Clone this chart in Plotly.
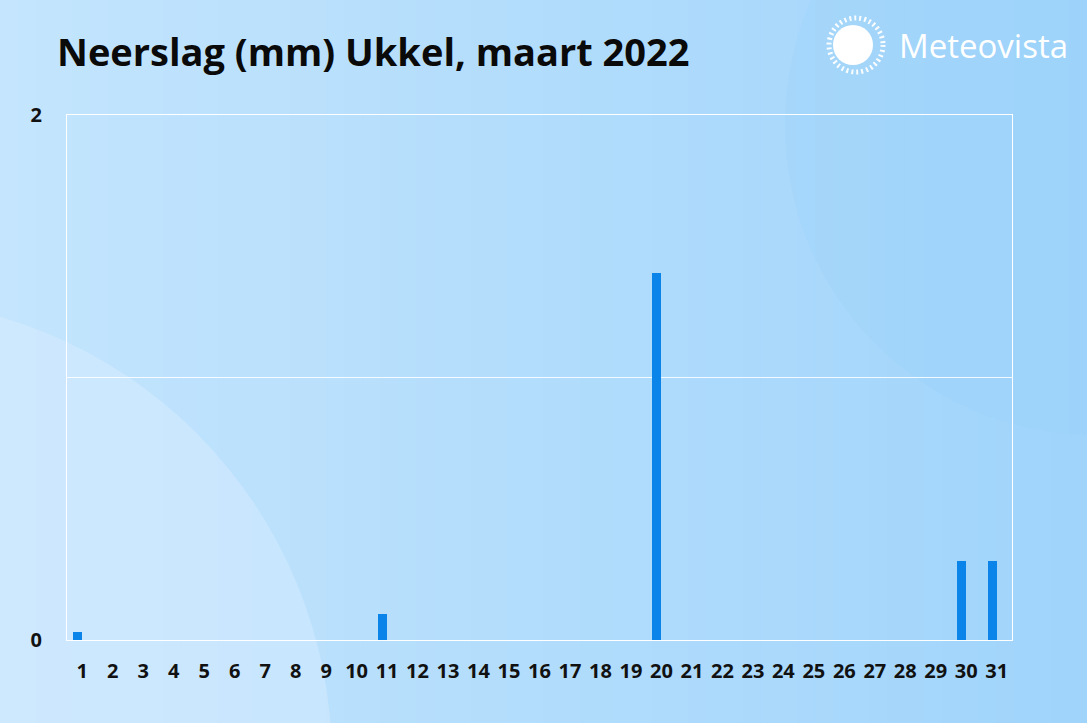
import plotly.graph_objects as go

# ---- data ----
days = [str(d) for d in range(1, 32)]
rain_mm = [0.03, 0, 0, 0, 0, 0, 0, 0, 0, 0,
           0.1, 0, 0, 0, 0, 0, 0, 0, 0, 1.4,
           0, 0, 0, 0, 0, 0, 0, 0, 0, 0.3, 0.3]
y_tickvals = [0, 1, 2]
y_ticktext = ["0", "", "2"]
title_text = "Neerslag (mm) Ukkel, maart 2022"
brand_text = "Meteovista"

W, H = 1087, 723
L, R, T, B = 67, 75, 115, 83
PW, PH = W - L - R, H - T - B


def px(x):
    return (x - L) / PW


def py(y):
    return (H - B - y) / PH


def lerp(c1, c2, t):
    return tuple(round(a + (b - a) * t) for a, b in zip(c1, c2))


shapes = []
# horizontal gradient background via strips
c_left, c_right = (196, 229, 253), (160, 212, 251)
N = 60
for i in range(N):
    c = lerp(c_left, c_right, (i + 0.5) / N)
    x0 = W * i / N
    x1 = W * (i + 1) / N + 1
    shapes.append(dict(type="rect", xref="paper", yref="paper",
                       x0=px(x0), x1=px(x1), y0=py(H), y1=py(0),
                       fillcolor="rgb(%d,%d,%d)" % c, line=dict(width=0),
                       layer="below"))
# lighter circle bottom-left
cx, cy, r = -130, 760, 462
shapes.append(dict(type="circle", xref="paper", yref="paper",
                   x0=px(cx - r), x1=px(cx + r), y0=py(cy + r), y1=py(cy - r),
                   fillcolor="rgba(225,242,255,0.35)", line=dict(width=0),
                   layer="below"))
# darker circle top-right
cx, cy, r = 1095, 125, 310
shapes.append(dict(type="circle", xref="paper", yref="paper",
                   x0=px(cx - r), x1=px(cx + r), y0=py(cy + r), y1=py(cy - r),
                   fillcolor="rgba(140,205,250,0.14)", line=dict(width=0),
                   layer="below"))
# sun logo
cx, cy, r = 853, 45, 20
shapes.append(dict(type="circle", xref="paper", yref="paper",
                   x0=px(cx - r), x1=px(cx + r), y0=py(cy + r), y1=py(cy - r),
                   fillcolor="white", line=dict(width=0), layer="above"))
cx, cy, r = 856, 45, 27
shapes.append(dict(type="circle", xref="paper", yref="paper",
                   x0=px(cx - r), x1=px(cx + r), y0=py(cy + r), y1=py(cy - r),
                   fillcolor="rgba(0,0,0,0)",
                   line=dict(width=5, color="rgba(255,255,255,0.95)", dash="2px,3px"),
                   layer="above"))

fig = go.Figure()
fig.add_trace(go.Bar(x=days, y=rain_mm, marker=dict(color="#0a84e9", line=dict(width=0)),
                     width=0.3, offset=-0.3, hoverinfo="x+y"))

fig.update_layout(
    width=W, height=H,
    margin=dict(l=L, r=R, t=T, b=B, pad=0),
    paper_bgcolor="#b4dcfb",
    plot_bgcolor="rgba(0,0,0,0)",
    showlegend=False,
    shapes=shapes,
    font=dict(family="Open Sans", color="#111111"),
    title=dict(text=title_text, x=57 / W, xanchor="left", xref="container",
               y=1 - 53 / H, yanchor="middle", yref="container",
               font=dict(family="Open Sans", size=38, weight="bold", color="#0a0a0a")),
    annotations=[dict(text=brand_text, xref="paper", yref="paper",
                      x=px(897), y=py(46), xanchor="left", yanchor="middle",
                      showarrow=False,
                      font=dict(family="Open Sans", size=33, color="white"))],
    bargap=0,
)
fig.update_xaxes(type="category", range=[-0.5, 30.5], showgrid=False, showline=True,
                 linecolor="white", linewidth=1, mirror=True, ticks="", ticklabelstandoff=13,
                 tickfont=dict(family="Open Sans", size=20, weight="bold", color="#111111"),
                 zeroline=False)
fig.update_yaxes(range=[0, 2], tickvals=y_tickvals, ticktext=y_ticktext,
                 showgrid=True, gridcolor="rgba(255,255,255,0.85)", gridwidth=1,
                 showline=True, linecolor="white", linewidth=1, mirror=True,
                 ticks="", ticklabelstandoff=20, zeroline=False,
                 tickfont=dict(family="Open Sans", size=20, weight="bold", color="#111111"))

fig.write_html("out.html", config={"displayModeBar": False},
               post_script="document.body.style.margin='0';")
